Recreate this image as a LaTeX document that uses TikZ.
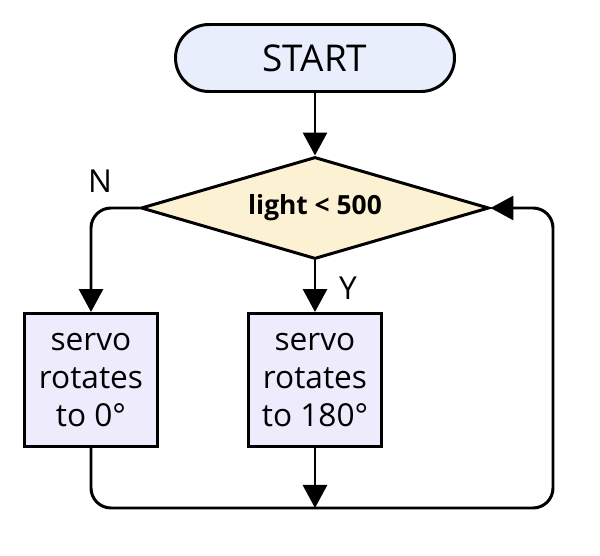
\documentclass[tikz,border=0pt]{standalone}
\usepackage{fontspec}
\setmainfont{Open Sans}
\usetikzlibrary{shapes.geometric,arrows.meta}
\definecolor{startfill}{HTML}{E8EEFC}
\definecolor{decfill}{HTML}{FCF1D2}
\definecolor{actfill}{HTML}{EEEBFC}
\begin{document}
\begin{tikzpicture}[font=\fontsize{18}{21.8}\selectfont, line width=1.7pt,
      term/.style={draw, rounded corners=0.67cm, fill=startfill, minimum width=5.58cm, minimum height=1.34cm, font=\fontsize{21}{25}\selectfont},
      dec/.style={draw, diamond, shape aspect=3.4, fill=decfill, inner sep=0pt, minimum width=6.96cm, minimum height=2.04cm, font=\fontsize{15}{18}\selectfont\bfseries},
      act/.style={draw, fill=actfill, align=center, minimum width=2.66cm, minimum height=2.66cm, inner sep=0pt},
      arr/.style={-{Triangle[length=0.46cm,width=0.48cm]}}]
    \useasboundingbox (0,0) rectangle (12,-11.12);
    \node[term] (st)  at (6.3,-1.16) {START};
    \node[dec]  (dc)  at (6.3,-4.16) {light < 500};
    \node[act]  (b1)  at (1.82,-7.6) {servo\\rotates\\to 0°};
    \node[act]  (b2)  at (6.3,-7.6) {servo\\rotates\\to 180°};
    \node (n) at (2.0,-3.62) {N};
    \node (y) at (6.96,-5.76) {Y};
    \coordinate (m)  at (6.3,-10.16);
    \coordinate (lr) at (11.06,-10.16);
    \draw[arr] (st) -- (dc);
    \draw[arr, rounded corners=0.4cm] (dc.west) -| (b1.north);
    \draw[arr] (dc.south) -- (b2.north);
    \draw[arr] (b2.south) -- (m);
    \draw[arr, rounded corners=0.4cm] (b1.south) |- (lr) |- (dc.east);
  \end{tikzpicture}
\end{document}
